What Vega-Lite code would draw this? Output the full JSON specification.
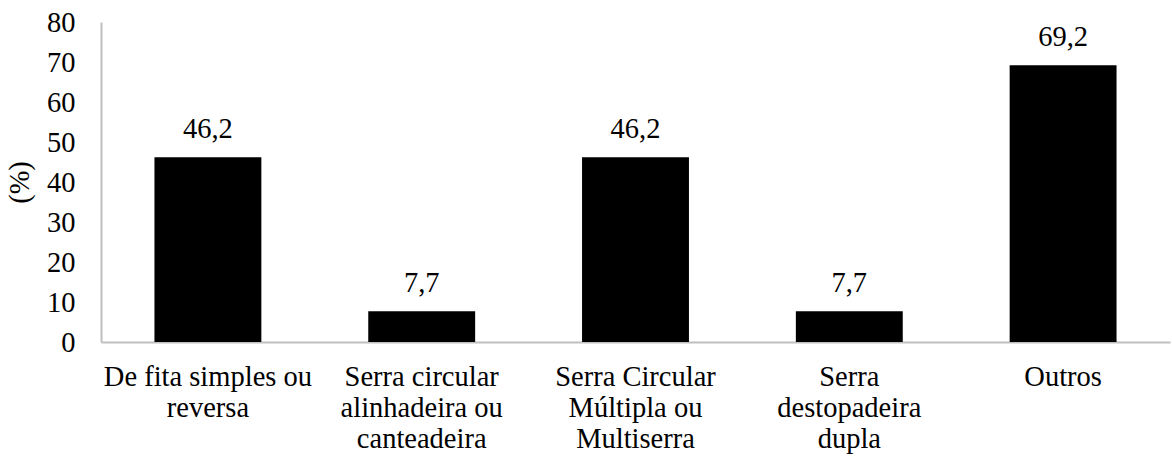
{
  "$schema": "https://vega.github.io/schema/vega-lite/v6.json",
  "width": 1069,
  "height": 320,
  "autosize": "none",
  "padding": {"left": 101, "top": 22, "right": 2, "bottom": 116},
  "background": "white",
  "config": {
    "view": {"stroke": null},
    "locale": {"number": {"decimal": ",", "thousands": ".", "grouping": [3], "currency": ["", ""]}},
    "font": "Liberation Serif"
  },
  "data": {
    "values": [
      {"categoria": "De fita simples ou|reversa", "valor": 46.2},
      {"categoria": "Serra circular|alinhadeira ou|canteadeira", "valor": 7.7},
      {"categoria": "Serra Circular|Múltipla ou|Multiserra", "valor": 46.2},
      {"categoria": "Serra|destopadeira|dupla", "valor": 7.7},
      {"categoria": "Outros", "valor": 69.2}
    ]
  },
  "encoding": {
    "x": {
      "field": "categoria",
      "type": "nominal",
      "sort": null,
      "scale": {"paddingInner": 0.5, "paddingOuter": 0.25},
      "axis": {
        "title": null,
        "labelAngle": 0,
        "labelExpr": "split(datum.label, '|')",
        "labelFont": "Liberation Serif",
        "labelFontSize": 28.5,
        "labelColor": "black",
        "labelLineHeight": 31,
        "labelPadding": 20,
        "labelLimit": 0,
        "ticks": false,
        "domainColor": "#bfbfbf",
        "domainWidth": 2
      }
    },
    "y": {
      "field": "valor",
      "type": "quantitative",
      "scale": {"domain": [0, 80]},
      "axis": {
        "title": "(%)",
        "titleFont": "Liberation Serif",
        "titleFontSize": 28.5,
        "titleFontWeight": "normal",
        "titleColor": "black",
        "titlePadding": 12,
        "values": [0, 10, 20, 30, 40, 50, 60, 70, 80],
        "format": "d",
        "labelFont": "Liberation Serif",
        "labelFontSize": 28.5,
        "labelColor": "black",
        "labelPadding": 26,
        "ticks": false,
        "grid": false,
        "domainColor": "#bfbfbf",
        "domainWidth": 2
      }
    }
  },
  "layer": [
    {"mark": {"type": "bar", "color": "black"}},
    {
      "mark": {"type": "text", "baseline": "alphabetic", "dy": -19, "font": "Liberation Serif", "fontSize": 28.5, "color": "black"},
      "encoding": {"text": {"field": "valor", "type": "quantitative", "format": ".1f"}}
    }
  ]
}
